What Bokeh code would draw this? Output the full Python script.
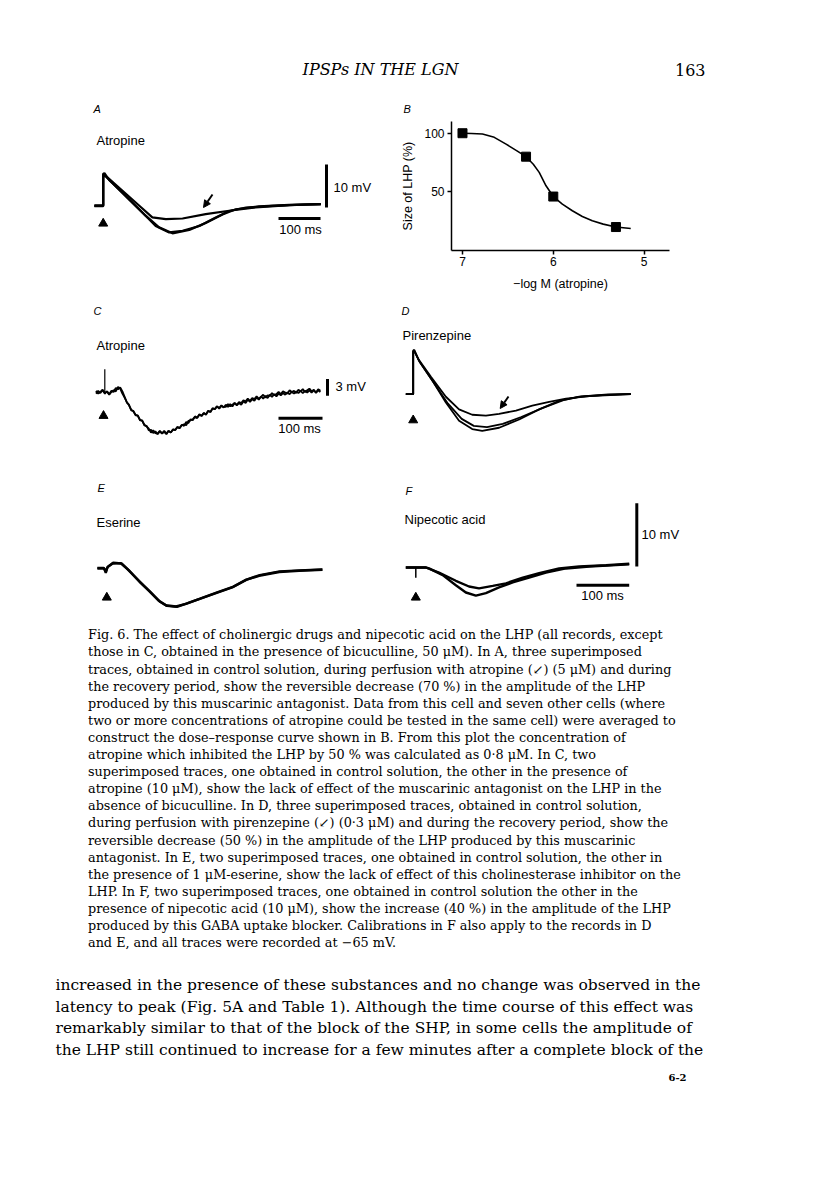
from bokeh.plotting import figure
from bokeh.layouts import column, row
from bokeh.models import Range1d, FixedTicker, Arrow, NormalHead
from bokeh.embed import file_html
from bokeh.resources import INLINE
from bokeh.core.properties import value

SANS = "Liberation Sans"
SERIF = "DejaVu Serif"

# ---------------- data ----------------
HEADER_TITLE = "IPSPs IN THE LGN"
PAGE_NO = "163"

# Panel A: three superimposed traces (time ms, membrane potential mV)
A_t_ctrl = [-21, 0, 0, 3, 14, 54, 94, 125, 157, 189, 229, 268, 300, 340, 403, 482, 518]
A_v_ctrl = [-0.1, -0.1, 7.4, 7.6, 6.0, 2.3, -1.6, -4.7, -6.2, -5.8, -4.7, -2.7, -1.2, -0.4, 0.0, 0.3, 0.4]
A_t_rec = [-21, 0, 0, 6, 22, 62, 101, 133, 165, 205, 244, 284, 316, 371, 443, 518]
A_v_rec = [0.1, 0.1, 7.0, 6.8, 5.3, 1.4, -2.3, -5.0, -6.4, -5.6, -4.0, -2.0, -0.8, -0.15, 0.2, 0.4]
A_t_atr = [-21, 0, 0, 2, 10, 46, 86, 117, 149, 189, 244, 300, 363, 443, 518]
A_v_atr = [0.0, 0.0, 7.3, 7.4, 6.6, 3.5, 0.0, -2.7, -3.1, -2.95, -1.95, -1.15, -0.4, 0.15, 0.4]

# Panel B: dose-response
B_conc = [7.0, 6.3, 6.0, 5.31]          # -log M (atropine)
B_size = [100, 80, 46, 20]              # size of LHP (%)
B_fit_x = [7.0, 6.9, 6.78, 6.65, 6.52, 6.4, 6.3, 6.22, 6.155, 6.08, 6.0, 5.9, 5.79, 5.68, 5.57, 5.45, 5.31, 5.147]
B_fit_y = [100, 99.8, 99.3, 96.5, 90.7, 85, 80, 73.5, 66.6, 55.2, 46, 39.5, 33.9, 29, 25.3, 22.5, 20, 18.8]
B_xticks = [7, 6, 5]
B_yticks = [50, 100]
B_xlabel = "\u2212log M (atropine)"
B_ylabel = "Size of LHP (%)"

# Panel C: two noisy superimposed traces (no bicuculline)
C_t = [-20, -15, -10, -5, 0, 5, 10, 15, 20, 25, 30, 35, 40, 45, 50, 55, 60, 65, 70, 75,
       80, 85, 90, 95, 100, 105, 110, 115, 120, 125, 130, 135, 140, 145, 150, 155, 160, 165, 170, 175,
       180, 185, 190, 195, 200, 205, 210, 215, 220, 225, 230, 235, 240, 245, 250, 255, 260, 265, 270, 275,
       280, 285, 290, 295, 300, 305, 310, 315, 320, 325, 330, 335, 340, 345, 350, 355, 360, 365, 370, 375,
       380, 385, 390, 395, 400, 405, 410, 415, 420, 425, 430, 435, 440, 445, 450, 455, 460, 465, 470, 475,
       480, 485, 490]
C_v1 = [0.3, -0.2, 0.1, 0.5, -0.1, 0.2, -0.4, 0.1, 0.4, 0.2, 1.0, 0.7, -0.2, -0.9, -1.7, -2.3, -3.1, -3.4, -4.0, -4.2,
        -4.9, -5.1, -5.8, -6.1, -6.5, -7.2, -6.8, -7.3, -7.4, -6.9, -7.3, -7.1, -7.5, -6.9, -7.2, -6.7, -6.7, -6.2, -6.4, -5.9,
        -5.7, -5.9, -5.1, -5.0, -4.8, -4.4, -4.6, -4.0, -4.2, -3.7, -3.9, -3.3, -3.5, -2.9, -3.0, -2.5, -2.9, -2.4, -2.6, -2.6,
        -2.1, -2.5, -2.2, -1.9, -2.2, -1.7, -1.9, -1.4, -1.6, -1.1, -1.5, -1.0, -1.2, -0.7, -1.1, -0.8, -0.4, -0.9, -0.5, -0.6,
        -0.1, -0.5, -0.3, 0.1, -0.3, 0.2, 0.0, -0.2, 0.4, 0.1, 0.3, -0.1, 0.5, 0.2, 0.6, 0.1, 0.4, 0.7, 0.2, 0.5,
        0.0, 0.6, 0.3]
C_v2 = [-0.2, 0.3, -0.1, 0.4, -0.2, 0.2, -0.3, 0.3, 0.1, 0.8, 0.6, 0.9, 0.2, -0.8, -1.8, -2.2, -3.2, -3.3, -4.1, -4.1,
        -5.0, -5.0, -5.9, -6.0, -6.8, -6.7, -7.3, -7.0, -7.5, -7.0, -7.4, -6.9, -7.4, -6.9, -7.2, -6.6, -6.8, -6.2, -6.4, -5.8,
        -6.0, -5.3, -5.5, -4.8, -5.0, -4.3, -4.5, -3.9, -4.2, -3.7, -4.0, -3.3, -3.5, -2.8, -3.0, -2.5, -2.8, -2.3, -2.7, -2.2,
        -2.6, -2.1, -2.5, -1.9, -2.3, -1.9, -2.2, -1.6, -1.9, -1.3, -1.7, -1.2, -1.5, -0.9, -1.3, -0.7, -1.1, -0.6, -1.0, -0.4,
        -0.8, -0.3, -0.7, -0.2, -0.5, -0.1, -0.4, 0.0, -0.3, 0.1, -0.2, 0.2, -0.1, 0.3, -0.1, 0.3, 0.0, 0.4, 0.0, 0.4,
        -0.1, 0.4, 0.1]
C_artifact = [-0.3, 4.2]

# Panel D: control, pirenzepine, recovery
D_t_c1 = [-14, 0, 0, 2, 11, 37, 62, 87, 112, 131, 163, 201, 239, 277, 315, 366, 413]
D_v_c1 = [0, 0, 6.8, 6.9, 5.3, 2.1, -1.3, -4.2, -5.5, -5.8, -5.3, -4.0, -2.4, -1.05, -0.4, -0.1, 0.0]
D_t_c2 = [-14, 0, 0, 2, 13, 40, 66, 92, 115, 140, 170, 205, 245, 285, 320, 370, 413]
D_v_c2 = [0, 0, 6.7, 6.8, 5.0, 1.7, -1.5, -3.9, -5.0, -5.2, -4.7, -3.6, -2.2, -0.95, -0.35, -0.05, 0.05]
D_t_p = [-14, 0, 0, 2, 10, 34, 62, 87, 112, 138, 163, 195, 226, 258, 290, 334, 413]
D_v_p = [0, 0, 6.9, 7.0, 5.5, 2.7, -0.4, -2.4, -3.25, -3.4, -3.1, -2.6, -1.8, -1.2, -0.7, -0.3, 0.0]

# Panel E: control and eserine
E_t1 = [-16, -3, 0, 3, 13, 28, 41, 63, 82, 101, 114, 133, 152, 177, 209, 240, 266, 291, 329, 367, 411]
E_v1 = [0, 0, -0.7, 0.2, 0.8, 0.85, -0.1, -1.95, -3.5, -5.1, -5.8, -6.0, -5.6, -4.85, -3.9, -3.0, -1.8, -1.15, -0.55, -0.35, -0.2]
E_t2 = [-16, -4, 0, 4, 14, 30, 43, 64, 83, 102, 116, 135, 154, 179, 210, 241, 267, 292, 330, 368, 411]
E_v2 = [0.1, 0.1, -0.5, 0.3, 0.9, 0.8, -0.2, -2.1, -3.6, -5.2, -5.9, -6.05, -5.5, -4.75, -3.8, -2.9, -1.75, -1.05, -0.45, -0.3, -0.15]

# Panel F: control and nipecotic acid
F_t_c = [-19, 19, 44, 76, 101, 120, 146, 171, 203, 234, 272, 310, 361, 405]
F_v_c = [0, 0, -0.8, -2.1, -3.0, -3.3, -2.9, -2.5, -1.6, -0.9, -0.15, 0.15, 0.35, 0.6]
F_t_n = [-19, 19, 25, 51, 76, 95, 114, 133, 158, 184, 215, 247, 285, 329, 405]
F_v_n = [0, 0, -0.15, -1.2, -2.8, -3.95, -4.45, -4.05, -3.15, -2.35, -1.6, -0.8, -0.15, 0.15, 0.5]
F_artifact = [0, -1.6]

SCALE_MS = 100
SCALE_MV_A = 10
SCALE_MV_C = 3
SCALE_MV_F = 10

CAPTION = [
    "Fig. 6. The effect of cholinergic drugs and nipecotic acid on the LHP (all records, except",
    "those in C, obtained in the presence of bicuculline, 50 \u03bcM). In A, three superimposed",
    "traces, obtained in control solution, during perfusion with atropine (\u2199) (5 \u03bcM) and during",
    "the recovery period, show the reversible decrease (70 %) in the amplitude of the LHP",
    "produced by this muscarinic antagonist. Data from this cell and seven other cells (where",
    "two or more concentrations of atropine could be tested in the same cell) were averaged to",
    "construct the dose\u2013response curve shown in B. From this plot the concentration of",
    "atropine which inhibited the LHP by 50 % was calculated as 0\u00b78 \u03bcM. In C, two",
    "superimposed traces, one obtained in control solution, the other in the presence of",
    "atropine (10 \u03bcM), show the lack of effect of the muscarinic antagonist on the LHP in the",
    "absence of bicuculline. In D, three superimposed traces, obtained in control solution,",
    "during perfusion with pirenzepine (\u2199) (0\u00b73 \u03bcM) and during the recovery period, show the",
    "reversible decrease (50 %) in the amplitude of the LHP produced by this muscarinic",
    "antagonist. In E, two superimposed traces, one obtained in control solution, the other in",
    "the presence of 1 \u03bcM-eserine, show the lack of effect of this cholinesterase inhibitor on the",
    "LHP. In F, two superimposed traces, one obtained in control solution the other in the",
    "presence of nipecotic acid (10 \u03bcM), show the increase (40 %) in the amplitude of the LHP",
    "produced by this GABA uptake blocker. Calibrations in F also apply to the records in D",
    "and E, and all traces were recorded at \u221265 mV.",
]
BODY = [
    "increased in the presence of these substances and no change was observed in the",
    "latency to peak (Fig. 5A and Table 1). Although the time course of this effect was",
    "remarkably similar to that of the block of the SHP, in some cells the amplitude of",
    "the LHP still continued to increase for a few minutes after a complete block of the",
]
FOOTER = "6-2"

# ---------------- layout geometry (page pixels) ----------------
W = 800
LW, RW = 380, 420
H_HEAD, H1, H2, H3 = 92, 205, 157, 160
H_CAP = 1165 - H_HEAD - H1 - H2 - H3
TOP1 = 8 + H_HEAD
TOP2 = TOP1 + H1
TOP3 = TOP2 + H2
TOPC = TOP3 + H3
BT, BB = 29, 47          # top/bottom borders shared by the first row (frames align)


def style_title(p, offset):
    p.title.text_font = SANS
    p.title.text_font_style = "italic"
    p.title.text_font_size = "11px"
    p.title.text_color = "black"
    p.title.align = "left"
    p.title.offset = offset
    p.title.standoff = 13


def blank(w, h, xr, yr, bt=0, bb=0, bl=0, br=0, title=None):
    kw = dict(title=title) if title else {}
    p = figure(width=w, height=h, x_range=xr, y_range=yr, x_axis_type=None, y_axis_type=None,
               output_backend="svg", toolbar_location=None,
               min_border_top=bt, min_border_bottom=bb, min_border_left=bl, min_border_right=br, **kw)
    p.outline_line_color = None
    p.background_fill_color = "white"
    p.border_fill_color = "white"
    return p


def panel(left, top, w, h, x0, y0, px_ms, px_mv, bt=0, bb=0, title=None):
    ftop, fh = top + bt, h - bt - bb
    xr = Range1d((left - x0) / px_ms, (left + w - x0) / px_ms)
    yr = Range1d((y0 - (ftop + fh)) / px_mv, (y0 - ftop) / px_mv)
    p = blank(w, h, xr, yr, bt=bt, bb=bb, title=title)
    X = lambda px: (px - x0) / px_ms
    Y = lambda py: (y0 - py) / px_mv
    return p, X, Y


def txt(p, x, y, s, size="13px", font=SANS, style="normal", align="left"):
    p.text(x=[x], y=[y], text=[s], text_font=value(font), text_font_size=size,
           text_font_style=style, text_align=align, text_baseline="middle", text_color="black")


def tri(p, x, y):
    p.scatter([x], [y], marker="triangle", size=9, color="black")


def arrow(p, x0, y0, x1, y1):
    p.add_layout(Arrow(end=NormalHead(size=7, fill_color="black", line_color="black"),
                       x_start=x0, y_start=y0, x_end=x1, y_end=y1, line_width=2, line_color="black"))


# ---------------- header ----------------
head = blank(W, H_HEAD, Range1d(8, 8 + W), Range1d(8 + H_HEAD, 8))
txt(head, 388, 77, HEADER_TITLE, size="16px", font=SERIF, style="italic", align="center")
txt(head, 713, 77, PAGE_NO, size="16px", font=SERIF, align="right")

# ---------------- panel A ----------------
pA, X, Y = panel(8, TOP1, LW, H1, 110.7, 213.3, 0.42, 4.3, bt=BT, bb=BB, title="A")
style_title(pA, 93)
for t, v in [(A_t_ctrl, A_v_ctrl), (A_t_rec, A_v_rec), (A_t_atr, A_v_atr)]:
    pA.line(t, v, line_width=2.2, color="black")
tri(pA, 0, Y(231))
arrow(pA, X(220), Y(202), X(211), Y(215))
pA.line([X(334), X(334)], [Y(215), Y(215) + SCALE_MV_A], line_width=3, color="black")
pA.line([X(286), X(286) + SCALE_MS], [Y(226), Y(226)], line_width=3, color="black")
txt(pA, X(104), Y(148), "Atropine")
txt(pA, X(341), Y(195), "10 mV")
txt(pA, X(308), Y(237), "100 ms", align="center")

# ---------------- panel B ----------------
pB = figure(width=RW, height=H1, x_range=Range1d(7.121, 4.72), y_range=Range1d(0, 110),
            output_backend="svg", toolbar_location=None, title="B",
            min_border_left=71, min_border_right=131, min_border_top=BT, min_border_bottom=BB)
pB.grid.visible = False
pB.outline_line_color = None
style_title(pB, -48)
for ax in [pB.xaxis[0], pB.yaxis[0]]:
    ax.axis_line_width = 1.5
    ax.axis_line_color = "black"
    ax.major_tick_line_width = 1.5
    ax.major_tick_line_color = "black"
    ax.major_tick_in = 0
    ax.major_tick_out = 4
    ax.minor_tick_line_color = None
    ax.major_label_text_font = SANS
    ax.major_label_text_font_size = "12px"
    ax.major_label_text_color = "black"
    ax.axis_label_text_font = SANS
    ax.axis_label_text_font_size = "12.5px"
    ax.axis_label_text_font_style = "normal"
    ax.axis_label_text_color = "black"
pB.xaxis.ticker = FixedTicker(ticks=B_xticks)
pB.yaxis.ticker = FixedTicker(ticks=B_yticks)
pB.xaxis.axis_label = B_xlabel
pB.yaxis.axis_label = B_ylabel
pB.xaxis.major_label_standoff = 2
pB.xaxis.axis_label_standoff = 8
pB.yaxis.major_label_standoff = 3
pB.yaxis.axis_label_standoff = 6
pB.line(B_fit_x, B_fit_y, line_width=1.6, color="black")
pB.scatter(B_conc, B_size, marker="square", size=9, color="black")

# ---------------- panel C ----------------
pC, X, Y = panel(8, TOP2, LW, H2, 112.3, 400, 0.44, 5.56)
pC.line(C_t, C_v1, line_width=1.8, color="black")
pC.line(C_t, C_v2, line_width=1.8, color="black")
pC.line([0, 0], C_artifact, line_width=1.2, color="black")
tri(pC, X(111), Y(423.3))
pC.line([X(335), X(335)], [Y(403.3), Y(403.3) + SCALE_MV_C], line_width=3, color="black")
pC.line([X(286), X(286) + SCALE_MS], [Y(425.7), Y(425.7)], line_width=3, color="black")
txt(pC, X(101), Y(318), "C", size="11px", style="italic")
txt(pC, X(104), Y(353), "Atropine")
txt(pC, X(343), Y(394), "3 mV")
txt(pC, X(307), Y(436), "100 ms", align="center")

# ---------------- panel D ----------------
pD, X, Y = panel(8 + LW, TOP2, RW, H2, 420.7, 401.7, 0.527, 6.33)
for t, v in [(D_t_c1, D_v_c1), (D_t_c2, D_v_c2), (D_t_p, D_v_p)]:
    pD.line(t, v, line_width=1.8, color="black")
tri(pD, 0, Y(427.7))
arrow(pD, X(516), Y(404), X(507.7), Y(416))
txt(pD, X(409), Y(318), "D", size="11px", style="italic")
txt(pD, X(410), Y(343), "Pirenzepine")

# ---------------- panel E ----------------
pE, X, Y = panel(8, TOP3, LW, H3, 113.3, 576, 0.527, 6.33)
pE.line(E_t1, E_v1, line_width=2.4, color="black")
pE.line(E_t2, E_v2, line_width=2.4, color="black")
tri(pE, X(114.3), Y(605))
txt(pE, X(105), Y(495), "E", size="11px", style="italic")
txt(pE, X(104), Y(530), "Eserine")

# ---------------- panel F ----------------
pF, X, Y = panel(8 + LW, TOP3, RW, H3, 423.3, 575, 0.527, 6.33)
pF.line(F_t_c, F_v_c, line_width=2.4, color="black")
pF.line(F_t_n, F_v_n, line_width=2.4, color="black")
pF.line([0, 0], F_artifact, line_width=1.5, color="black")
tri(pF, 0, Y(605))
pF.line([X(644.3), X(644.3)], [Y(574), Y(574) + SCALE_MV_F], line_width=3, color="black")
pF.line([X(584), X(584) + SCALE_MS], [Y(592.7), Y(592.7)], line_width=3, color="black")
txt(pF, X(413), Y(498), "F", size="11px", style="italic")
txt(pF, X(412), Y(527), "Nipecotic acid")
txt(pF, X(649), Y(542), "10 mV")
txt(pF, X(610), Y(603), "100 ms", align="center")

# ---------------- caption and body text ----------------
cap = blank(W, H_CAP, Range1d(8, 8 + W), Range1d(TOPC + H_CAP, TOPC))
for i, line in enumerate(CAPTION):
    txt(cap, 95.5, 642.3 + i * 17.1, line, size="12.8px", font=SERIF)
for i, line in enumerate(BODY):
    txt(cap, 63, 992.5 + i * 21.5, line, size="15.5px", font=SERIF)
txt(cap, 685, 1085, FOOTER, size="10px", font=SERIF, style="bold", align="center")

layout = column(head, row(pA, pB), row(pC, pD), row(pE, pF), cap)
open("out.html", "w").write(file_html(layout, INLINE))
